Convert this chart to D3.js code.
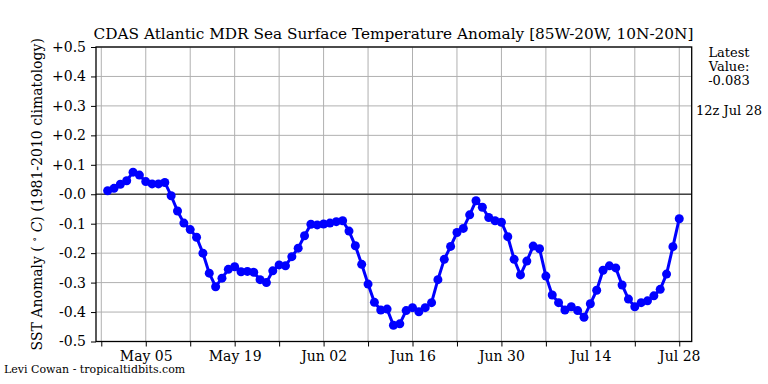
<!DOCTYPE html>
<html>
<head>
<meta charset="utf-8">
<script src="https://cdn.jsdelivr.net/npm/d3@7"></script>
<style>
  body { margin: 0; background: #fff; }
  svg text { font-family: "DejaVu Serif", serif; fill: #000; }
</style>
</head>
<body>
<div id="chart"></div>
<script>
// chart data
// ==========
var startDate = "2019-04-29";   // first daily value
var sstAnomaly = [
	0.012, 0.02,
	0.034, 0.046, 0.075, 0.065, 0.043, 0.035, 0.035, 0.04, -0.005, -0.057,
	-0.098, -0.12, -0.146, -0.2, -0.268, -0.314, -0.285, -0.255, -0.246, -0.263,
	-0.262, -0.265, -0.29, -0.30, -0.26, -0.24, -0.243, -0.212, -0.183, -0.141, -0.102,
	-0.104, -0.101, -0.098, -0.093, -0.09, -0.125, -0.175, -0.238, -0.305, -0.367,
	-0.393, -0.39, -0.445, -0.44, -0.395, -0.385, -0.399, -0.385, -0.368, -0.29,
	-0.221, -0.177, -0.13, -0.116, -0.07, -0.022, -0.044, -0.079, -0.09, -0.095,
	-0.144, -0.221, -0.274, -0.227, -0.176, -0.185, -0.278, -0.342, -0.368, -0.393,
	-0.382, -0.395, -0.418, -0.372, -0.326, -0.258, -0.243, -0.25, -0.308, -0.356,
	-0.382, -0.368, -0.362, -0.345, -0.323, -0.271, -0.178, -0.083
];
var yTicks = [0.5, 0.4, 0.3, 0.2, 0.1, 0, -0.1, -0.2, -0.3, -0.4, -0.5];
var yTickLabels = ["+0.5", "+0.4", "+0.3", "+0.2", "+0.1", "-0.0", "-0.1", "-0.2", "-0.3", "-0.4", "-0.5"];
var xTickDates = ["2019-04-28", "2019-05-05", "2019-05-12", "2019-05-19", "2019-05-26", "2019-06-02",
	"2019-06-09", "2019-06-16", "2019-06-23", "2019-06-30", "2019-07-07", "2019-07-14",
	"2019-07-21", "2019-07-28"];
var xTickLabels = ["", "May 05", "", "May 19", "", "Jun 02", "", "Jun 16", "", "Jun 30", "", "Jul 14", "", "Jul 28"];
var latestValue = "-0.083";
var latestTime = "12z Jul 28";

// layout
// ======
var svgWidth = 768;
var svgHeight = 384;
var plot = { left: 96, right: 691.7, top: 47, bottom: 341.5 };

var svg = d3.select("#chart")
	.append("svg")
	.attr("width", svgWidth)
	.attr("height", svgHeight);

var parse = d3.utcParse("%Y-%m-%d");
var day0 = parse(startDate);
var points = sstAnomaly.map((v, i) => ({ date: d3.utcDay.offset(day0, i), value: v }));
var tickDates = xTickDates.map(parse);

// scales
var xScale = d3.scaleUtc()
	.domain([d3.utcHour.offset(parse("2019-04-28"), -20), d3.utcHour.offset(parse("2019-07-28"), 47)])
	.range([plot.left, plot.right]);

var yScale = d3.scaleLinear()
	.domain([-0.5, 0.5])
	.range([plot.bottom, plot.top]);

// grid
// ====
var grid = svg.append("g");
grid.selectAll(".vgrid")
	.data(tickDates)
	.enter()
	.append("line")
	.attr("x1", d => xScale(d))
	.attr("x2", d => xScale(d))
	.attr("y1", plot.top)
	.attr("y2", plot.bottom)
	.attr("stroke", "#b0b0b0")
	.attr("stroke-width", 1);

grid.selectAll(".hgrid")
	.data(yTicks)
	.enter()
	.append("line")
	.attr("x1", plot.left)
	.attr("x2", plot.right)
	.attr("y1", d => yScale(d))
	.attr("y2", d => yScale(d))
	.attr("stroke", "#b0b0b0")
	.attr("stroke-width", 1);

// zero line
svg.append("line")
	.attr("x1", plot.left)
	.attr("x2", plot.right)
	.attr("y1", yScale(0))
	.attr("y2", yScale(0))
	.attr("stroke", "#444")
	.attr("stroke-width", 1.5);

// axes
// ====
var xAxis = d3.axisBottom(xScale)
	.tickValues(tickDates)
	.tickSize(5)
	.tickPadding(5)
	.tickFormat((d, i) => xTickLabels[i]);

var yAxis = d3.axisLeft(yScale)
	.tickValues(yTicks)
	.tickSize(5)
	.tickPadding(5)
	.tickFormat((d, i) => yTickLabels[i]);

var xAxisGroup = svg.append("g")
	.attr("transform", `translate(0, ${plot.bottom})`)
	.call(xAxis);

var yAxisGroup = svg.append("g")
	.attr("transform", `translate(${plot.left}, 0)`)
	.call(yAxis);

[xAxisGroup, yAxisGroup].forEach(function (g) {
	g.attr("font-family", null);
	g.select(".domain").remove();
	g.selectAll("line").attr("stroke", "#000").attr("stroke-width", 1);
	g.selectAll("text")
		.style("font-family", "'DejaVu Serif'")
		.style("font-size", "14px")
		.attr("fill", "#000");
});

// frame
svg.append("rect")
	.attr("x", plot.left)
	.attr("y", plot.top)
	.attr("width", plot.right - plot.left)
	.attr("height", plot.bottom - plot.top)
	.attr("fill", "none")
	.attr("stroke", "#000")
	.attr("stroke-width", 1.3);

// series
// ======
var line = d3.line()
	.x(d => xScale(d.date))
	.y(d => yScale(d.value));

svg.append("path")
	.datum(points)
	.attr("d", line)
	.attr("fill", "none")
	.attr("stroke", "#0000ff")
	.attr("stroke-width", 3)
	.attr("stroke-linejoin", "round");

svg.selectAll(".dot")
	.data(points)
	.enter()
	.append("circle")
	.attr("cx", d => xScale(d.date))
	.attr("cy", d => yScale(d.value))
	.attr("r", 4.5)
	.attr("fill", "#0000ff");

// texts
// =====
svg.append("text")
	.attr("x", 393.5)
	.attr("y", 39)
	.attr("text-anchor", "middle")
	.style("font-size", "15.3px")
	.text("CDAS Atlantic MDR Sea Surface Temperature Anomaly [85W-20W, 10N-20N]");

var yLabel = svg.append("text")
	.attr("transform", `translate(42, ${(plot.top + plot.bottom) / 2}) rotate(-90)`)
	.attr("text-anchor", "middle")
	.style("font-size", "14px");
yLabel.append("tspan").text("SST Anomaly ( ");
yLabel.append("tspan").attr("dy", -4).style("font-size", "10px").text("∘");
yLabel.append("tspan").attr("dy", 4).style("font-style", "italic").text(" C");
yLabel.append("tspan").text(") (1981-2010 climatology)");

var side = svg.append("text")
	.attr("text-anchor", "middle")
	.style("font-size", "13px");
["Latest", "Value:", latestValue].forEach(function (t, i) {
	side.append("tspan")
		.attr("x", 729)
		.attr("y", 56.5 + i * 14.3)
		.text(t);
});
svg.append("text")
	.attr("x", 729)
	.attr("y", 115)
	.attr("text-anchor", "middle")
	.style("font-size", "13px")
	.text(latestTime);

svg.append("text")
	.attr("x", 4)
	.attr("y", 373)
	.style("font-size", "11px")
	.text("Levi Cowan - tropicaltidbits.com");
</script>
</body>
</html>
